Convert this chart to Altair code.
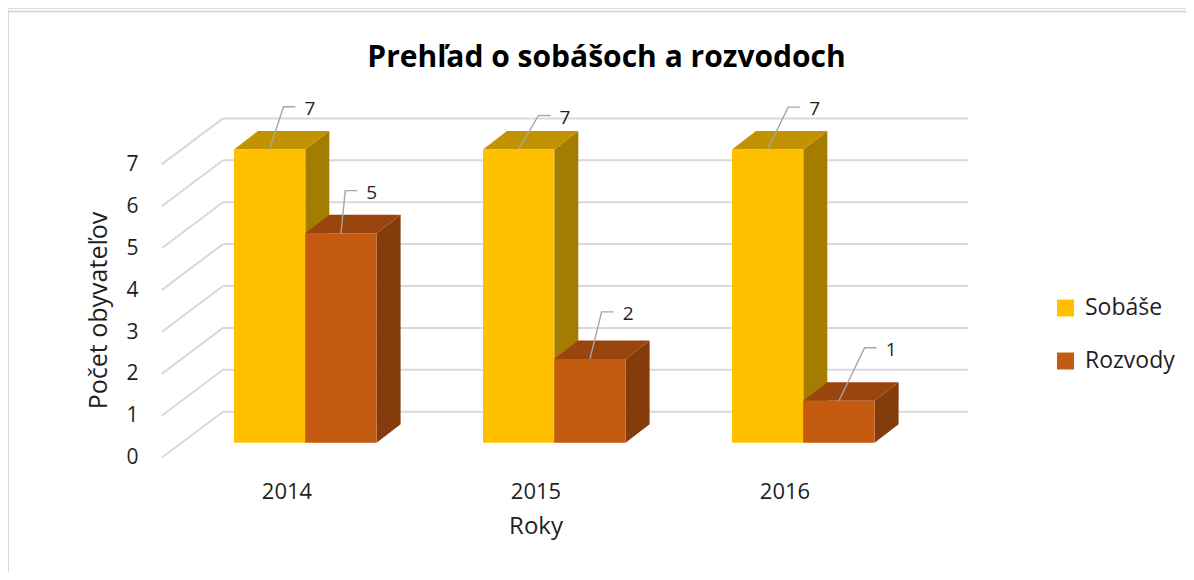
import altair as alt
import pandas as pd
import json

# ---------------- data ----------------
years = ["2014", "2015", "2016"]
series = ["Sobáše", "Rozvody"]
sobase = [7, 7, 7]
rozvody = [5, 2, 1]
y_ticks = [0, 1, 2, 3, 4, 5, 6, 7]
title_text = "Prehľad o sobášoch a rozvodoch"
y_title = "Počet obyvateľov"
x_title = "Roky"

# ---------------- layout (pixels inside plot area) ----------------
W, H = 1178, 564
CAT_PX = 249.0          # distance between categories
CAT0_PX = 278.5         # x of first category centre
UNIT_PX = 41.9          # pixels per value unit
ZERO_PX = 449.7         # y of value 0 at front floor edge

x_dom = [-CAT0_PX / CAT_PX, (W - CAT0_PX) / CAT_PX]
y_dom = [(ZERO_PX - H) / UNIT_PX, ZERO_PX / UNIT_PX]

BAR_W = 71.3 / CAT_PX
BAR_LEFT = -52.5 / CAT_PX
DEPTH_X = 24 / CAT_PX
DEPTH_Y = 18.5 / UNIT_PX
BAR_BASE = 15 / UNIT_PX
WALL_DY = 46 / UNIT_PX
WALL_X0 = (215 - CAT0_PX) / CAT_PX
WALL_X1 = (960 - CAT0_PX) / CAT_PX
DIAG_X0 = (153.7 - CAT0_PX) / CAT_PX

# leader-line elbow offsets (px) per bar, in order year x series
label_offsets = [(13.8, -42.6), (4.3, -42.6), (19.9, -33.9),
                 (11.7, -47.0), (20.5, -42.3), (25.7, -53.0)]
LEADER_H = 12
TEXT_GAP = 9

FONT = "Open Sans"
TXT = "#1f1f1f"
front_colors = ["#FFC000", "#C55A11"]
side_colors = {"Sobáše": "#A47C00", "Rozvody": "#843C0C"}
top_colors = {"Sobáše": "#C29200", "Rozvody": "#9B450E"}

# ---------------- build tables ----------------
values = {"Sobáše": sobase, "Rozvody": rozvody}
front, side, top, lead, lab = [], [], [], [], []
n = 0
for i, yr in enumerate(years):
    for j, s in enumerate(series):
        v = values[s][i]
        left = i + BAR_LEFT + j * BAR_W
        right = left + BAR_W
        base = BAR_BASE
        tp = BAR_BASE + v
        bid = f"{yr}-{s}"
        front.append(dict(id=bid, series=s, x=left, x2=right, y=base, y2=tp, value=v))
        side.append(dict(id=bid, series=s, k=0, x=right, y=base, y2=tp))
        side.append(dict(id=bid, series=s, k=1, x=right + DEPTH_X,
                         y=base + DEPTH_Y, y2=tp + DEPTH_Y))
        top.append(dict(id=bid, series=s, k=0, y=tp, x=left, x2=right))
        top.append(dict(id=bid, series=s, k=1, y=tp + DEPTH_Y,
                        x=left + DEPTH_X, x2=right + DEPTH_X))
        dx, dy = label_offsets[n]
        ax, ay = left + BAR_W / 2, tp
        ex, ey = ax + dx / CAT_PX, ay - dy / UNIT_PX
        endx = ex + LEADER_H / CAT_PX
        lead += [dict(id=bid, k=0, x=ax, y=ay), dict(id=bid, k=1, x=ex, y=ey),
                 dict(id=bid, k=2, x=endx, y=ey)]
        lab.append(dict(id=bid, x=endx + TEXT_GAP / CAT_PX, y=ey - 2 / UNIT_PX, text=str(v)))
        n += 1

grid = []
for k in y_ticks:
    grid.append(dict(x=WALL_X0, x2=WALL_X1, y=k + WALL_DY, y2=k + WALL_DY))
    grid.append(dict(x=DIAG_X0, x2=WALL_X0, y=k, y2=k + WALL_DY))

df_front, df_side, df_top = pd.DataFrame(front), pd.DataFrame(side), pd.DataFrame(top)
df_lead, df_lab, df_grid = pd.DataFrame(lead), pd.DataFrame(lab), pd.DataFrame(grid)

# ---------------- scales / axes ----------------
xs = alt.Scale(domain=x_dom, nice=False, zero=False)
ys = alt.Scale(domain=y_dom, nice=False, zero=False)

x_axis = alt.Axis(values=[0, 1, 2], labelExpr=f"{json.dumps(years)}[datum.value]",
                  orient="bottom", offset=-81, domain=False, ticks=False, tickSize=0,
                  labelPadding=0, labelBaseline="middle", labelAngle=0, grid=False,
                  labelFont=FONT, labelFontSize=22, labelColor=TXT,
                  title=x_title, titleFont=FONT, titleFontSize=24, titleFontWeight="normal",
                  titleColor=TXT, titleX=CAT0_PX + CAT_PX, titleY=42,
                  titleBaseline="alphabetic")
y_axis = alt.Axis(values=y_ticks, format="d", orient="left", offset=-130, domain=False,
                  ticks=False, tickSize=0, labelPadding=0, grid=False,
                  labelFont=FONT, labelFontSize=21, labelColor=TXT,
                  title=y_title, titleFont=FONT, titleFontSize=25, titleFontWeight="normal",
                  titleColor=TXT, titleX=-40, titleY=302, titleAngle=-90,
                  titleBaseline="middle", titleAlign="center")


def X(f="x"):
    return alt.X(f"{f}:Q", scale=xs, axis=x_axis, stack=None)


def Y(f="y"):
    return alt.Y(f"{f}:Q", scale=ys, axis=y_axis, stack=None)


gridlines = alt.Chart(df_grid).mark_rule(color="#D9D9D9", strokeWidth=2).encode(
    x=X(), x2="x2:Q", y=Y(), y2="y2:Q")

side_layers, top_layers = [], []
for bid in df_front["id"]:
    sd = df_side[df_side["id"] == bid]
    s = sd["series"].iloc[0]
    side_layers.append(
        alt.Chart(sd).mark_area(orient="vertical", color=side_colors[s], opacity=1).encode(
            x=X(), y=Y(), y2="y2:Q"))
    td = df_top[df_top["id"] == bid]
    top_layers.append(
        alt.Chart(td).mark_area(orient="horizontal", color=top_colors[s], opacity=1).encode(
            y=Y(), x=X(), x2="x2:Q"))

fronts = alt.Chart(df_front).mark_rect().encode(
    x=X(), x2="x2:Q", y=Y(), y2="y2:Q",
    color=alt.Color("series:N", scale=alt.Scale(domain=series, range=front_colors),
                    legend=alt.Legend(title=None, orient="none", legendX=1046, legendY=288.5,
                                      symbolType="square", symbolSize=289,
                                      symbolStrokeWidth=0, labelFont=FONT, labelFontSize=23,
                                      labelColor=TXT, labelOffset=8, rowPadding=29,
                                      padding=0, direction="vertical")))

leaders = alt.Chart(df_lead).mark_line(color="#A6A6A6", strokeWidth=1.4).encode(
    x=X(), y=Y(), detail="id:N", order="k:Q")

labels = alt.Chart(df_lab).mark_text(align="left", baseline="middle", font=FONT,
                                     fontSize=19, color=TXT).encode(
    x=X(), y=Y(), text="text:N")

one = pd.DataFrame({"a": [0]})
frame_l = alt.Chart(one).mark_rule(color="#D9D9D9", strokeWidth=2).encode(
    x=alt.value(0), y=alt.value(3.5), y2=alt.value(H))
frame_t = alt.Chart(one).mark_rule(color="#D9D9D9", strokeWidth=2).encode(
    x=alt.value(0), x2=alt.value(W), y=alt.value(3.5))

chart = alt.layer(frame_l, frame_t, gridlines, *side_layers, *top_layers, fronts,
                  leaders, labels).properties(
    width=W, height=H, padding=0,
    autosize=alt.AutoSizeParams(type="none"),
    title=alt.TitleParams(title_text, font=FONT, fontSize=30, fontWeight="bold",
                          color="black", anchor="middle", dx=9.5, offset=-89,
                          baseline="alphabetic"),
).configure_view(stroke=None).configure(font=FONT)

chart.save("out.html", embed_options={"renderer": "svg", "actions": False})
